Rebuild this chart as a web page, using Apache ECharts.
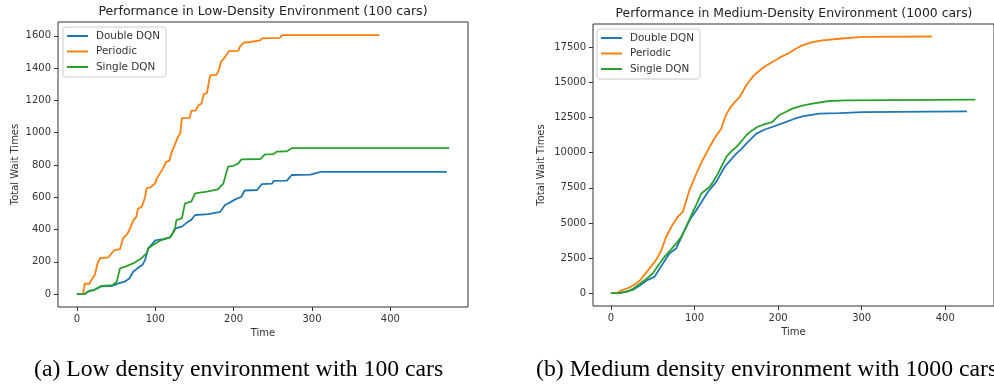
<!DOCTYPE html>
<html>
<head>
<meta charset="utf-8">
<script src="https://cdn.jsdelivr.net/npm/echarts@6/dist/echarts.min.js"></script>
<style>
  html, body { margin: 0; padding: 0; background: #fff; }
  #chart { width: 994px; height: 387px; }
</style>
</head>
<body>
<div id="chart"></div>
<script>
// series names / tick labels
const seriesNames = ["Double DQN", "Periodic", "Single DQN"];
const seriesColors = ["#1f77b4", "#ff7f0e", "#2ca02c"];
const lowXTicks = [0, 100, 200, 300, 400];
const lowYTicks = [0, 200, 400, 600, 800, 1000, 1200, 1400, 1600];
const medXTicks = [0, 100, 200, 300, 400];
const medYTicks = [0, 2500, 5000, 7500, 10000, 12500, 15000, 17500];

// (a) low density, 100 cars : [time, total wait]
const lowDouble = [[0,0],[10,0],[16,20],[22,25],[31,48],[44,50],[48,56],[53,66],[61,77],[67,97],[72,138],[80,169],[84,182],[87,211],[91,283],[96,310],[100,333],[110,340],[119,351],[122,376],[125,405],[134,418],[142,449],[146,460],[151,490],[168,496],[183,510],[189,552],[196,570],[202,587],[210,603],[214,642],[230,645],[236,682],[249,684],[251,701],[268,703],[274,738],[298,740],[300,748],[311,757],[472,757]];
const lowPeriodic = [[0,0],[8,0],[10,64],[16,64],[19,90],[23,120],[27,200],[30,222],[40,227],[44,250],[48,273],[55,278],[59,345],[63,365],[66,386],[72,455],[76,480],[78,530],[83,541],[87,600],[89,655],[94,662],[100,686],[102,717],[104,718],[110,779],[114,820],[118,825],[121,880],[125,925],[129,975],[132,995],[134,1090],[144,1092],[146,1135],[152,1138],[155,1170],[159,1180],[162,1240],[166,1245],[170,1355],[178,1358],[181,1385],[184,1440],[188,1462],[194,1505],[206,1507],[208,1533],[213,1558],[221,1562],[223,1570],[234,1572],[236,1585],[259,1588],[262,1605],[386,1605]];
const lowSingle = [[0,0],[10,0],[16,20],[22,25],[31,50],[46,56],[51,77],[55,159],[61,169],[72,190],[82,221],[89,252],[91,283],[97,304],[108,335],[119,351],[125,397],[127,459],[134,469],[138,562],[146,573],[151,624],[166,635],[180,649],[187,686],[190,740],[193,790],[200,795],[206,810],[210,835],[234,837],[240,866],[251,867],[255,883],[268,885],[274,904],[300,905],[475,905]];

// (b) medium density, 1000 cars : [time, total wait]
const medDouble = [[0,0],[10,0],[20,120],[27,260],[35,570],[44,950],[52,1160],[60,1900],[70,2820],[78,3180],[86,4200],[94,5190],[100,5700],[106,6260],[116,7200],[126,7920],[136,8980],[142,9400],[150,9930],[156,10250],[162,10650],[168,11000],[174,11360],[184,11650],[193,11830],[209,12180],[219,12400],[229,12590],[249,12780],[273,12820],[301,12890],[426,12940]];
const medPeriodic = [[0,0],[7,0],[11,160],[20,350],[27,570],[35,925],[46,1750],[54,2350],[60,3000],[66,4000],[73,4800],[80,5430],[86,5780],[94,7330],[104,8750],[110,9500],[118,10400],[126,11200],[132,11710],[137,12600],[142,13140],[148,13600],[154,13960],[162,14800],[171,15500],[182,16050],[193,16450],[203,16800],[213,17100],[221,17400],[229,17640],[241,17870],[253,17990],[273,18110],[301,18250],[384,18270]];
const medSingle = [[0,0],[10,0],[20,150],[27,330],[35,690],[42,1000],[50,1400],[57,2000],[64,2580],[71,3050],[78,3530],[84,4000],[90,4720],[98,5780],[103,6400],[108,7090],[118,7560],[123,8000],[128,8510],[138,9700],[144,10100],[150,10400],[156,10800],[162,11240],[168,11550],[175,11830],[185,12050],[193,12180],[201,12660],[209,12900],[217,13140],[229,13350],[241,13490],[261,13680],[281,13730],[436,13780]];

const FONT = "DejaVu Sans";
const INK = "#333";

function xAxisOf(idx, min, max, ticks) {
  return {
    type: "value", gridIndex: idx, min: min, max: max,
    name: "Time", nameLocation: "middle", nameGap: 20,
    nameTextStyle: { fontFamily: FONT, fontSize: 10, color: INK },
    axisLine: { show: false, onZero: false },
    axisTick: { show: true, length: 4, customValues: ticks, lineStyle: { color: INK } },
    axisLabel: { customValues: ticks, margin: 7, fontFamily: FONT, fontSize: 10, color: INK, formatter: (v) => String(v) },
    splitLine: { show: false }
  };
}
function yAxisOf(idx, min, max, ticks, gap) {
  return {
    type: "value", gridIndex: idx, min: min, max: max,
    name: "Total Wait Times", nameLocation: "middle", nameGap: gap,
    nameTextStyle: { fontFamily: FONT, fontSize: 10, color: INK },
    axisLine: { show: false, onZero: false },
    axisTick: { show: true, length: 4, customValues: ticks, lineStyle: { color: INK } },
    axisLabel: { customValues: ticks, margin: 7, fontFamily: FONT, fontSize: 10, color: INK, formatter: (v) => String(v) },
    splitLine: { show: false }
  };
}
function legendOf(left, top) {
  return {
    orient: "vertical", left: left, top: top,
    data: seriesNames, icon: "rect", itemWidth: 21, itemHeight: 2, itemGap: 5.5,
    padding: [4, 6, 5, 4],
    backgroundColor: "rgba(255,255,255,0.8)", borderColor: "#ccc", borderWidth: 1, borderRadius: 3,
    textStyle: { fontFamily: FONT, fontSize: 10.4, color: INK, padding: [0, 0, 0, 3] }
  };
}
function lineOf(name, data, idx, color) {
  return {
    name: name, type: "line", data: data, xAxisIndex: idx, yAxisIndex: idx,
    showSymbol: false, color: color, lineStyle: { width: 1.8, color: color }
  };
}

const chart = echarts.init(document.getElementById("chart"));
chart.setOption({
  animation: false,
  backgroundColor: "#fff",
  grid: [
    { left: 58, top: 22, width: 410, height: 285, show: true, borderColor: INK, borderWidth: 1 },
    { left: 593, top: 24, width: 403, height: 282, show: true, borderColor: INK, borderWidth: 1 }
  ],
  xAxis: [xAxisOf(0, -24, 499, lowXTicks), xAxisOf(1, -21.4, 458.3, medXTicks)],
  yAxis: [yAxisOf(0, -80, 1686, lowYTicks, 38), yAxisOf(1, -912, 19160, medYTicks, 47)],
  legend: [legendOf(63, 27), legendOf(597, 29)],
  graphic: [
    { type: "text", x: 263, y: 12, style: { text: "Performance in Low-Density Environment (100 cars)", align: "center", verticalAlign: "middle", font: "12.6px 'DejaVu Sans'", fill: "#222" } },
    { type: "text", x: 794, y: 14, style: { text: "Performance in Medium-Density Environment (1000 cars)", align: "center", verticalAlign: "middle", font: "12.4px 'DejaVu Sans'", fill: "#222" } },
    { type: "text", x: 34, y: 370, style: { text: "(a) Low density environment with 100 cars", align: "left", verticalAlign: "middle", font: "23.7px 'Liberation Serif'", fill: "#000" } },
    { type: "text", x: 536, y: 370, style: { text: "(b) Medium density environment with 1000 cars", align: "left", verticalAlign: "middle", font: "23.8px 'Liberation Serif'", fill: "#000" } }
  ],
  series: [
    lineOf(seriesNames[0], lowDouble, 0, seriesColors[0]),
    lineOf(seriesNames[1], lowPeriodic, 0, seriesColors[1]),
    lineOf(seriesNames[2], lowSingle, 0, seriesColors[2]),
    lineOf(seriesNames[0], medDouble, 1, seriesColors[0]),
    lineOf(seriesNames[1], medPeriodic, 1, seriesColors[1]),
    lineOf(seriesNames[2], medSingle, 1, seriesColors[2])
  ]
});
</script>
</body>
</html>
